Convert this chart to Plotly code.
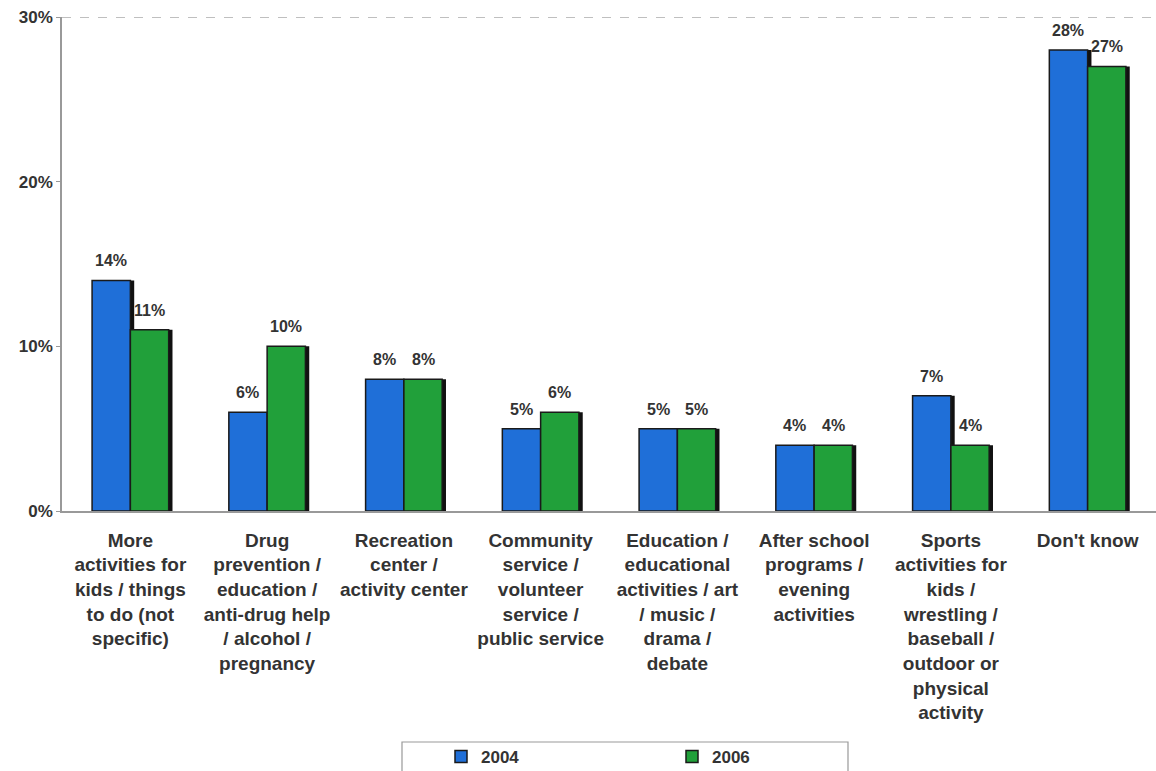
import plotly.graph_objects as go

categories = [
    "More<br>activities for<br>kids / things<br>to do (not<br>specific)",
    "Drug<br>prevention /<br>education /<br>anti-drug help<br>/ alcohol /<br>pregnancy",
    "Recreation<br>center /<br>activity center",
    "Community<br>service /<br>volunteer<br>service /<br>public service",
    "Education /<br>educational<br>activities / art<br>/ music /<br>drama /<br>debate",
    "After school<br>programs /<br>evening<br>activities",
    "Sports<br>activities for<br>kids /<br>wrestling /<br>baseball /<br>outdoor or<br>physical<br>activity",
    "Don't know",
]
values_2004 = [14, 6, 8, 5, 5, 4, 7, 28]
values_2006 = [11, 10, 8, 6, 5, 4, 4, 27]
y_ticks = [0, 10, 20, 30]
y_tick_labels = ["0%", "10%", "20%", "30%"]

W, H = 1156, 771
M_L, M_R, M_T, M_B = 62, 0, 17, 260
PLOT_W = W - M_L - M_R
PLOT_H = H - M_T - M_B

BLUE = "#1f6fd8"
GREEN = "#21a03a"
BAR_W = 0.28
SHADOW_DX = 0.028
FONT = "Liberation Sans, Arial, sans-serif"
TEXT = "#333333"
CAT_PX = PLOT_W / len(categories)

fig = go.Figure()

# drop shadows behind each bar
for vals, off in ((values_2004, -BAR_W), (values_2006, 0.0)):
    fig.add_trace(go.Bar(
        x=categories, y=vals, width=BAR_W, offset=off + SHADOW_DX,
        marker=dict(color="#111111", line=dict(width=0)),
        showlegend=False, hoverinfo="skip",
    ))

series = (("2004", values_2004, BLUE, -BAR_W),
          ("2006", values_2006, GREEN, 0.0))
for name, vals, color, off in series:
    fig.add_trace(go.Bar(
        x=categories, y=vals, name=name, width=BAR_W, offset=off,
        marker=dict(color=color, line=dict(color="#1a1a1a", width=1.5)),
    ))
    # value labels above each bar
    shift = (off + BAR_W / 2) * CAT_PX
    for cat, v in zip(categories, vals):
        fig.add_annotation(
            x=cat, y=v, text=f"{v}%", showarrow=False,
            xshift=shift, yshift=9, yanchor="bottom",
            font=dict(family=FONT, size=16, color=TEXT, weight="bold"),
        )

fig.update_layout(
    width=W, height=H,
    margin=dict(l=M_L, r=M_R, t=M_T, b=M_B),
    paper_bgcolor="white", plot_bgcolor="white",
    barmode="overlay",
    font=dict(family=FONT, color=TEXT),
    showlegend=True,
    legend=dict(
        orientation="h", xref="container", yref="container",
        x=441 / W, xanchor="left", y=(H - 739) / H, yanchor="top",
        borderwidth=0, entrywidth=186, bgcolor="rgba(0,0,0,0)",
        font=dict(family=FONT, size=17, color=TEXT, weight="bold"),
        traceorder="normal", itemwidth=30,
    ),
    xaxis=dict(
        showline=True, linecolor="#999999", linewidth=1.5,
        tickfont=dict(family=FONT, size=19, color=TEXT, weight="bold"),
        ticks="", showgrid=False, tickangle=0, automargin=False,
        ticklabelstandoff=11,
    ),
    yaxis=dict(
        range=[0, 30], tickvals=y_ticks, ticktext=y_tick_labels,
        showline=True, linecolor="#999999", linewidth=1.5,
        ticks="outside", ticklen=4, tickcolor="#999999",
        showgrid=False, zeroline=False, automargin=False,
        tickfont=dict(family=FONT, size=17, color=TEXT, weight="bold"),
    ),
)

# dashed top gridline at 30%
fig.add_shape(type="line", xref="paper", yref="y", x0=0, x1=1, y0=30, y1=30,
              line=dict(color="#aaaaaa", width=1.5, dash="dash"))

# legend frame
fig.add_shape(type="rect", xref="paper", yref="paper",
              x0=(402 - M_L) / PLOT_W, x1=(848 - M_L) / PLOT_W,
              y0=-(742 - M_T - PLOT_H) / PLOT_H, y1=-(780 - M_T - PLOT_H) / PLOT_H,
              line=dict(color="#999999", width=1.2), layer="below")

fig.write_html("out.html")
